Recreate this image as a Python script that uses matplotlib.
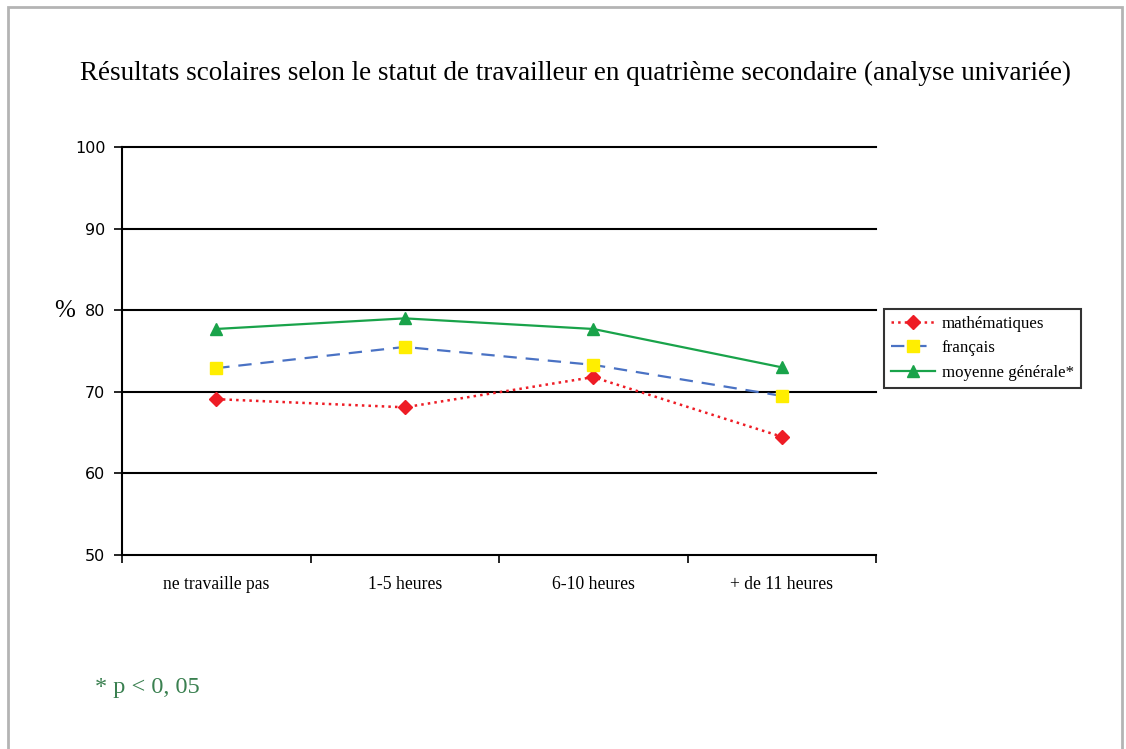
import matplotlib.pyplot as plt
from matplotlib.patches import Rectangle

categories = ['ne travaille pas', '1-5 heures', '6-10 heures', '+ de 11 heures']
maths = [69.1, 68.1, 71.8, 64.5]
francais = [72.9, 75.5, 73.3, 69.5]
moyenne = [77.7, 79.0, 77.7, 73.0]

plt.rcParams['font.family'] = ['Liberation Serif', 'DejaVu Serif']

fig = plt.figure(figsize=(11.26, 7.49), dpi=100)
fig.patches.append(Rectangle((8 / 1126, -0.01), 1114 / 1126, 1 - 7 / 749 + 0.01,
                             transform=fig.transFigure, fill=False,
                             edgecolor='#b4b4b4', linewidth=2))

ax = fig.add_axes([122 / 1126, 1 - 555 / 749, 754 / 1126, 408 / 749])
x = [0, 1, 2, 3]

ax.plot(x, maths, color='#ee1c25', linestyle=':', linewidth=1.8, marker='D',
        markersize=7, markerfacecolor='#ee1c25', markeredgecolor='#ee1c25',
        label='mathématiques', zorder=3)
ax.plot(x, francais, color='#4a72c4', linestyle=(0, (6, 4)), linewidth=1.6,
        marker='s', markersize=8, markerfacecolor='#ffee00',
        markeredgecolor='#ffee00', label='français', zorder=3)
ax.plot(x, moyenne, color='#19a34a', linestyle='-', linewidth=1.6, marker='^',
        markersize=9, markerfacecolor='#19a34a', markeredgecolor='#19a34a',
        label='moyenne générale*', zorder=3)

ax.set_xlim(-0.5, 3.5)
ax.set_ylim(50, 100)
ax.set_yticks([50, 60, 70, 80, 90, 100])
for v in [60, 70, 80, 90, 100]:
    ax.axhline(v, color='black', linewidth=1.5, zorder=1, clip_on=False)

ax.set_xticks([-0.5, 0.5, 1.5, 2.5, 3.5])
ax.set_xticklabels([])
ax.set_xticks(x, minor=True)
ax.set_xticklabels(categories, minor=True, fontsize=12.7)
ax.tick_params(axis='x', which='minor', length=0, pad=15)
ax.tick_params(axis='x', which='major', length=6, width=1.2, direction='out')
ax.tick_params(axis='y', length=6, width=1.2, direction='out', pad=6)
for lab in ax.get_yticklabels():
    lab.set_fontfamily('DejaVu Sans')
    lab.set_fontsize(11.5)

for s in ['top', 'right']:
    ax.spines[s].set_visible(False)
for s in ['left', 'bottom']:
    ax.spines[s].set_linewidth(1.5)

fig.text(575 / 1126, 1 - 73 / 749, 'Résultats scolaires selon le statut de travailleur en quatrième secondaire (analyse univariée)',
         ha='center', va='center', fontsize=19.5)
fig.text(65 / 1126, 1 - 311 / 749, '%', ha='center', va='center', fontsize=18)
fig.text(95 / 1126, 1 - 687 / 749, '* p < 0, 05', ha='left', va='center',
         fontsize=17.5, color='#3a8050')

leg = fig.legend(loc='upper left', bbox_to_anchor=(884 / 1126, 1 - 309 / 749),
                 fontsize=12.2, frameon=True, fancybox=False, edgecolor='black',
                 borderaxespad=0, handlelength=2.6, labelspacing=0.5,
                 borderpad=0.4, handletextpad=0.4)
leg.get_frame().set_linewidth(1.5)

fig.savefig('out.png', dpi=100)
